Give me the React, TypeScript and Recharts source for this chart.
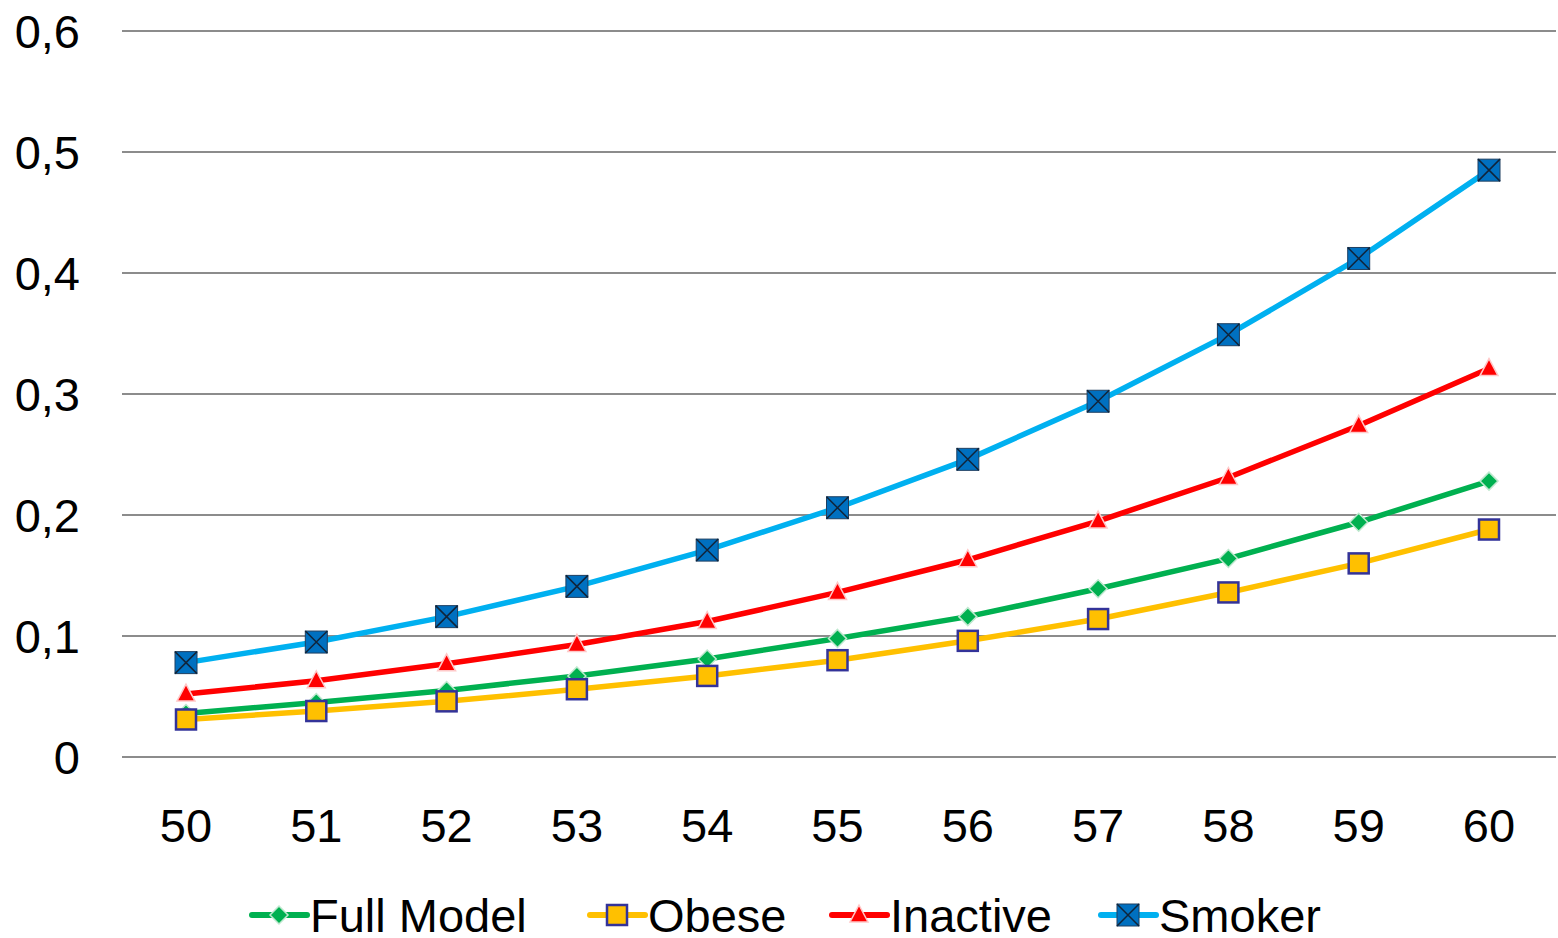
import React from "react";
import { LineChart, Line, XAxis, YAxis, CartesianGrid, Legend } from "recharts";

const ages = ["50", "51", "52", "53", "54", "55", "56", "57", "58", "59", "60"];
const fullModel = [0.036, 0.045, 0.055, 0.067, 0.081, 0.098, 0.116, 0.139, 0.164, 0.194, 0.228];
const obese = [0.031, 0.038, 0.046, 0.056, 0.067, 0.080, 0.096, 0.114, 0.136, 0.160, 0.188];
const inactive = [0.052, 0.063, 0.077, 0.093, 0.112, 0.136, 0.163, 0.195, 0.231, 0.274, 0.321];
const smoker = [0.078, 0.095, 0.116, 0.141, 0.171, 0.206, 0.246, 0.294, 0.349, 0.412, 0.485];
const yTicks = [0, 0.1, 0.2, 0.3, 0.4, 0.5, 0.6];

const data = ages.map((a, i) => ({
  age: a,
  full: fullModel[i],
  obese: obese[i],
  inactive: inactive[i],
  smoker: smoker[i],
}));

const FONT = "'Liberation Sans', Arial, sans-serif";
const FS = 47;

const Diamond = ({ cx, cy }: any) => (
  <path
    d={`M${cx},${cy - 9} L${cx + 9},${cy} L${cx},${cy + 9} L${cx - 9},${cy} Z`}
    fill="#00B050"
    stroke="#BFE8CF"
    strokeWidth={1.5}
  />
);
const Square = ({ cx, cy }: any) => (
  <rect x={cx - 10} y={cy - 10} width={20} height={20} fill="#FFC000" stroke="#333399" strokeWidth={2.5} />
);
const Triangle = ({ cx, cy }: any) => (
  <path
    d={`M${cx},${cy - 10} L${cx + 9},${cy + 7} L${cx - 9},${cy + 7} Z`}
    fill="#FF0000"
    stroke="#FFC8C8"
    strokeWidth={1.5}
  />
);
const XSquare = ({ cx, cy }: any) => (
  <g>
    <rect x={cx - 11} y={cy - 11} width={22} height={22} fill="#0070C0" stroke="#1F3F60" strokeWidth={1} />
    <path d={`M${cx - 11},${cy - 11} L${cx + 11},${cy + 11} M${cx + 11},${cy - 11} L${cx - 11},${cy + 11}`} stroke="#10243A" strokeWidth={1.5} />
  </g>
);

const legendItems = [
  { name: "Full Model", color: "#00B050", Marker: Diamond, x: 252 },
  { name: "Obese", color: "#FFC000", Marker: Square, x: 590 },
  { name: "Inactive", color: "#FF0000", Marker: Triangle, x: 832 },
  { name: "Smoker", color: "#00B0F0", Marker: XSquare, x: 1101 },
];

const LegendContent = () => (
  <svg width={1558} height={70} style={{ display: "block" }}>
    {legendItems.map((it) => {
      const cy = 47;
      const cx = it.x + 27;
      const M = it.Marker;
      return (
        <g key={it.name}>
          <line x1={it.x} y1={cy} x2={it.x + 55} y2={cy} stroke={it.color} strokeWidth={6} strokeLinecap="round" />
          <M cx={cx} cy={cy} />
          <text x={it.x + 58} y={cy + 17} fontFamily={FONT} fontSize={FS} fill="#000">
            {it.name}
          </text>
        </g>
      );
    })}
  </svg>
);

export default function App() {
  return (
    <div style={{ position: "absolute", left: 0, top: 0, width: 1558, height: 938, background: "#fff" }}>
      <LineChart
        width={1558}
        height={938}
        data={data}
        margin={{ top: 31, right: 2, bottom: 0, left: 0 }}
      >
        <CartesianGrid horizontal vertical={false} stroke="#8C8C8C" strokeWidth={2} />
        <XAxis
          dataKey="age"
          axisLine={false}
          tickLine={false}
          tickSize={0}
          tickMargin={52}
          height={111}
          padding={{ left: 64, right: 67 }}
          tick={{ fontFamily: FONT, fontSize: FS, fill: "#000" }}
          interval={0}
        />
        <YAxis
          domain={[0, 0.6]}
          ticks={yTicks}
          axisLine={false}
          tickLine={false}
          tickSize={0}
          tickMargin={42}
          width={122}
          tickFormatter={(v: number) => (v === 0 ? "0" : String(v).replace(".", ","))}
          tick={{ fontFamily: FONT, fontSize: FS, fill: "#000" }}
        />
        <Legend verticalAlign="bottom" height={70} content={<LegendContent />} />
        <Line dataKey="full" name="Full Model" stroke="#00B050" strokeWidth={5.5} dot={<Diamond />} isAnimationActive={false} />
        <Line dataKey="obese" name="Obese" stroke="#FFC000" strokeWidth={5.5} dot={<Square />} isAnimationActive={false} />
        <Line dataKey="inactive" name="Inactive" stroke="#FF0000" strokeWidth={5.5} dot={<Triangle />} isAnimationActive={false} />
        <Line dataKey="smoker" name="Smoker" stroke="#00B0F0" strokeWidth={5.5} dot={<XSquare />} isAnimationActive={false} />
      </LineChart>
    </div>
  );
}
